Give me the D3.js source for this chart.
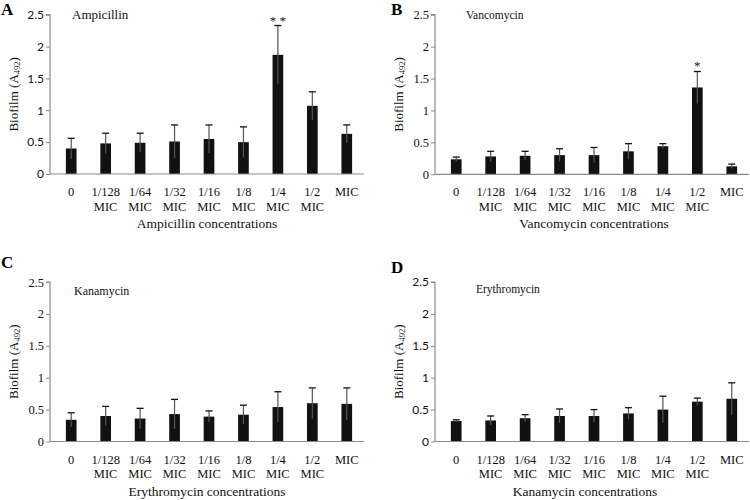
<!DOCTYPE html>
<html><head><meta charset="utf-8">
<script src="https://cdn.jsdelivr.net/npm/d3@7"></script>
<style>body{margin:0;background:#fff}svg{display:block}</style>
</head><body>
<svg id="c" width="750" height="500"></svg>
<script>
const categories = [["0"],["1/128","MIC"],["1/64","MIC"],["1/32","MIC"],["1/16","MIC"],["1/8","MIC"],["1/4","MIC"],["1/2","MIC"],["MIC"]];
const yTicks = [0, 0.5, 1, 1.5, 2, 2.5];
const ampMean = [0.40,0.48,0.49,0.51,0.55,0.50,1.87,1.07,0.63];
const ampSD   = [0.16,0.16,0.15,0.26,0.22,0.24,0.46,0.22,0.14];
const vanMean = [0.235,0.28,0.29,0.30,0.30,0.36,0.44,1.36,0.125];
const vanSD   = [0.035,0.08,0.07,0.10,0.12,0.12,0.04,0.25,0.035];
const kanMean = [0.34,0.40,0.36,0.43,0.39,0.42,0.54,0.60,0.59];
const kanSD   = [0.11,0.15,0.16,0.23,0.09,0.15,0.24,0.24,0.25];
const eryMean = [0.32,0.33,0.365,0.40,0.40,0.44,0.50,0.625,0.67];
const erySD   = [0.02,0.07,0.055,0.11,0.10,0.09,0.21,0.055,0.25];
const ampSig = ["","","","","","","* *","",""];
const vanSig = ["","","","","","","","*",""];

const SERIF = "'Liberation Serif','Times New Roman',serif";
const SANS = "Lato,'Liberation Sans',sans-serif";

const panels = [
  {letter:"A", lx:1, ly:15, title:"Ampicillin", tx:72, ty:19, tfs:13, xlab:"Ampicillin concentrations", xlabC:207,
   mean:ampMean, sd:ampSD, sig:ampSig, axisX:50, x0:54, x1:364, top:14.7, bot:174, tickFont:SANS, tickFs:12, ylabX:15, sigOff:1},
  {letter:"B", lx:391, ly:15, title:"Vancomycin", tx:466, ty:19, tfs:11.5, xlab:"Vancomycin concentrations", xlabC:594,
   mean:vanMean, sd:vanSD, sig:vanSig, axisX:435, x0:439, x1:749, top:14.7, bot:174.3, tickFont:SERIF, tickFs:12.5, ylabX:400, sigOff:2},
  {letter:"C", lx:1, ly:268, title:"Kanamycin", tx:74, ty:295, tfs:12, xlab:"Erythromycin concentrations", xlabC:207,
   mean:kanMean, sd:kanSD, sig:null, axisX:50, x0:54, x1:364, top:282, bot:441.5, tickFont:SERIF, tickFs:12.5, ylabX:15, sigOff:2},
  {letter:"D", lx:391, ly:273, title:"Erythromycin", tx:476, ty:293, tfs:11.5, xlab:"Kanamycin concentrations", xlabC:585,
   mean:eryMean, sd:erySD, sig:null, axisX:435, x0:439, x1:749, top:282, bot:441.5, tickFont:SANS, tickFs:12, ylabX:400, sigOff:2}
];

const svg = d3.select("#c");
const AXC = "#8a8a8a";

panels.forEach(p => {
  const g = svg.append("g");
  const x = d3.scaleBand().domain(d3.range(categories.length)).range([p.x0, p.x1]).paddingInner(0.69).paddingOuter(0.345);
  const y = d3.scaleLinear().domain([0, 2.5]).range([p.bot, p.top]);

  g.selectAll("rect.bar").data(p.mean).join("rect")
    .attr("x", (d,i) => x(i)).attr("width", x.bandwidth())
    .attr("y", d => y(d)).attr("height", d => y(0) - y(d))
    .attr("fill", "#111");

  const cx = i => x(i) + x.bandwidth()/2;
  g.selectAll("line.err").data(p.mean).join("line")
    .attr("x1", (d,i) => cx(i)).attr("x2", (d,i) => cx(i))
    .attr("y1", (d,i) => y(d - p.sd[i])).attr("y2", (d,i) => y(d + p.sd[i]))
    .attr("stroke", "#555").attr("stroke-width", 1.2);
  g.selectAll("line.cap").data(p.mean).join("line")
    .attr("x1", (d,i) => cx(i) - 3.5).attr("x2", (d,i) => cx(i) + 3.5)
    .attr("y1", (d,i) => y(d + p.sd[i])).attr("y2", (d,i) => y(d + p.sd[i]))
    .attr("stroke", "#111").attr("stroke-width", 1.3);

  if (p.sig) {
    g.selectAll("text.sig").data(p.sig).join("text")
      .attr("x", (d,i) => cx(i)).attr("y", (d,i) => y(p.mean[i] + p.sd[i]) - p.sigOff)
      .attr("text-anchor", "middle").attr("font-family", SERIF).attr("font-size", 13).attr("fill", "#111")
      .text(d => d);
  }

  g.append("line").attr("x1", p.axisX).attr("x2", p.x1).attr("y1", y(0)).attr("y2", y(0))
    .attr("stroke", AXC).attr("stroke-width", 1.2);

  const ya = d3.axisLeft(y).tickValues(yTicks).tickSize(4).tickPadding(2).tickFormat(d3.format("~g"));
  const yg = g.append("g").attr("transform", `translate(${p.axisX},0)`).call(ya);
  yg.select(".domain").attr("stroke", AXC).attr("stroke-width", 1.2).attr("d", `M-4,${y(2.5)}H0V${y(0)}H0`);
  yg.selectAll(".tick line").attr("stroke", AXC);
  yg.selectAll(".tick text").attr("font-family", p.tickFont).attr("font-size", p.tickFs).attr("fill", "#111");

  categories.forEach((lines, i) => {
    lines.forEach((t, k) => {
      g.append("text").attr("x", cx(i)).attr("y", y(0) + 22 + k*14.5)
        .attr("text-anchor", "middle").attr("font-family", SERIF).attr("font-size", 12.5).attr("fill", "#111").text(t);
    });
  });

  g.append("text").attr("x", p.xlabC).attr("y", y(0) + 54)
    .attr("text-anchor", "middle").attr("font-family", SERIF).attr("font-size", 13.5).attr("fill", "#111").text(p.xlab);

  const yt = g.append("text").attr("transform", `translate(${p.ylabX},${(p.top + p.bot)/2}) rotate(-90)`)
    .attr("text-anchor", "middle").attr("dominant-baseline", "middle")
    .attr("font-family", SERIF).attr("font-size", 13).attr("fill", "#111");
  yt.append("tspan").text("Biofilm (A");
  yt.append("tspan").attr("font-size", 8.5).attr("dy", 3).text("492");
  yt.append("tspan").attr("dy", -3).text(")");

  g.append("text").attr("x", p.tx).attr("y", p.ty).attr("font-family", SERIF).attr("font-size", p.tfs).attr("fill", "#111").text(p.title);

  g.append("text").attr("x", p.lx).attr("y", p.ly).attr("font-family", SERIF).attr("font-weight", "bold")
    .attr("font-size", 17).attr("fill", "#000").text(p.letter);
});
</script>
</body></html>
